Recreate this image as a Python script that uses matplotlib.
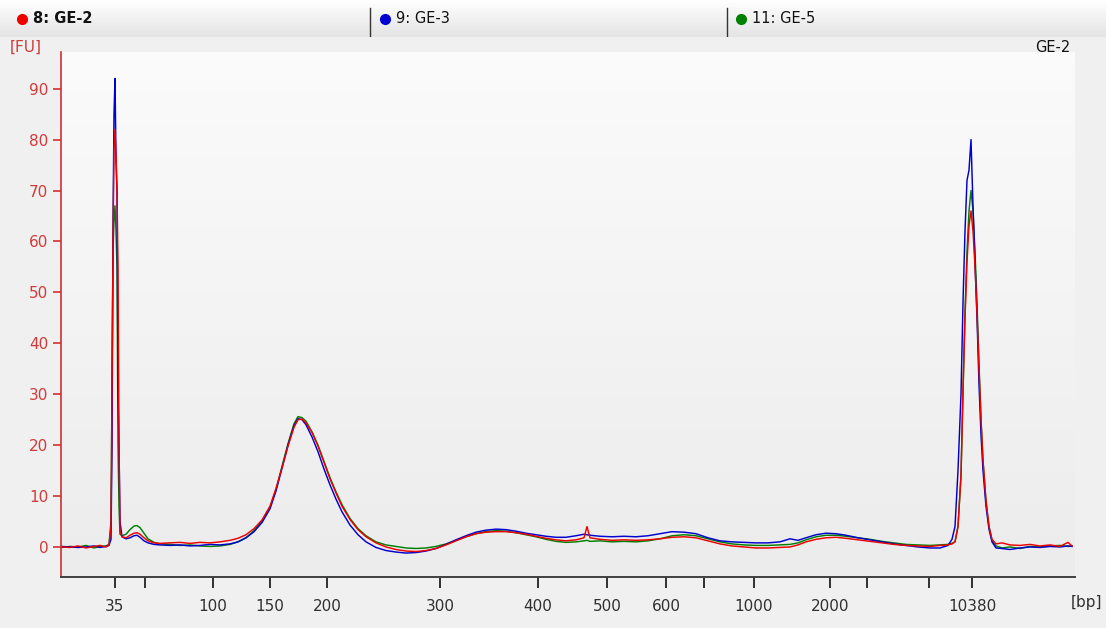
import numpy as np
import matplotlib
matplotlib.use("Agg")
import matplotlib.pyplot as plt

# migration time [s] shared by all three samples
time_s = [
    20.1, 20.9, 21.7, 22.5, 23.3, 23.9, 24.5, 24.8, 25.0, 25.1, 25.2, 25.3, 25.4, 25.5, 25.6,
    25.7, 25.8, 25.9, 26.1, 26.5, 26.9, 27.3, 27.6, 27.9, 28.3, 28.7, 29.3, 29.9, 30.9, 31.9,
    32.9, 33.9, 34.9, 35.9, 36.9, 37.7, 38.5, 39.3, 40.1, 40.9, 41.5, 42.1, 42.7, 43.3, 43.7,
    44.1, 44.5, 45.1, 45.7, 46.3, 46.9, 47.5, 48.1, 48.9, 49.7, 50.5, 51.5, 52.5, 53.5, 54.5,
    55.5, 56.5, 57.5, 58.5, 59.5, 60.5, 61.5, 62.5, 63.5, 64.5, 65.5, 66.5, 67.5, 68.5, 69.5,
    70.5, 71.5, 72.3, 72.6, 72.9, 73.9, 75.1, 76.3, 77.5, 78.7, 79.9, 81.1, 82.3, 83.5, 84.7,
    85.9, 87.1, 88.3, 89.5, 90.7, 91.9, 92.9, 93.7, 94.5, 95.5, 96.5, 97.5, 98.5, 99.7, 100.9,
    102.1, 103.3, 104.5, 105.7, 106.9, 107.9, 108.7, 109.1, 109.4, 109.7, 110.0, 110.2, 110.4, 110.6, 110.8,
    111.0, 111.2, 111.4, 111.6, 111.8, 112.0, 112.2, 112.5, 112.8, 113.1, 113.5, 114.1, 114.9, 115.9, 116.9,
    117.9, 118.9, 119.9, 120.7, 121.1,
]

ge2 = [
    0.0, -0.1, 0.2, -0.2, 0.1, 0.3, 0.0, 0.4, 4.0, 30, 60, 78, 82, 77, 70,
    55, 20, 3.0, 2.0, 1.8, 2.3, 2.7, 2.8, 2.5, 1.8, 1.2, 0.8, 0.7, 0.8, 0.9,
    0.7, 0.9, 0.8, 1.0, 1.3, 1.7, 2.4, 3.6, 5.3, 8.0, 11.5, 15.5, 19.8, 23.5, 25.0,
    25.1, 24.4, 22.5, 19.8, 16.6, 13.4, 10.6, 8.0, 5.4, 3.4, 2.0, 0.8, 0.0, -0.5, -0.8,
    -0.9, -0.7, -0.3, 0.4, 1.2, 2.0, 2.6, 2.9, 3.0, 3.0, 2.8, 2.5, 2.1, 1.7, 1.4,
    1.2, 1.4, 1.8, 4.0, 1.8, 1.5, 1.3, 1.4, 1.3, 1.4, 1.6, 1.9, 2.0, 1.8, 1.2,
    0.6, 0.2, 0.0, -0.2, -0.2, -0.1, 0.0, 0.4, 1.0, 1.5, 1.8, 1.9, 1.7, 1.4, 1.1,
    0.8, 0.5, 0.3, 0.2, 0.1, 0.3, 0.4, 0.6, 1.0, 4.0, 14, 31, 45, 56, 63,
    66, 62, 55, 46, 35, 25, 17, 9, 4, 1.5, 0.6, 0.8, 0.4, 0.3, 0.5,
    0.2, 0.4, 0.1, 0.9, 0.2,
]

ge3 = [
    0.1, 0.0, -0.1, 0.0, 0.2, -0.1, 0.1, 0.3, 1.5, 20, 63, 85, 92, 76, 70,
    31, 20, 5, 2.0, 1.6, 1.8, 2.2, 2.3, 1.9, 1.2, 0.8, 0.5, 0.4, 0.3, 0.4,
    0.2, 0.3, 0.5, 0.4, 0.6, 1.0, 1.8, 3.0, 4.8, 7.5, 11.0, 15.5, 20.0, 23.8, 25.2,
    25.0, 24.0, 21.6, 18.7, 15.3, 12.2, 9.4, 6.9, 4.3, 2.4, 1.0, -0.1, -0.7, -1.0, -1.2,
    -1.1, -0.8, -0.3, 0.5, 1.4, 2.2, 2.9, 3.3, 3.5, 3.4, 3.1, 2.7, 2.4, 2.1, 1.9,
    1.9, 2.2, 2.5, 2.4, 2.3, 2.1, 2.0, 2.1, 2.0, 2.2, 2.6, 3.0, 2.9, 2.6, 1.8,
    1.2, 1.0, 0.9, 0.8, 0.8, 1.0, 1.6, 1.3, 1.8, 2.4, 2.7, 2.6, 2.3, 1.8, 1.4,
    1.0, 0.6, 0.3, 0.0, -0.2, -0.2, 0.3, 1.5, 4.0, 15, 30, 48, 62, 72, 74,
    80, 67, 56, 45, 32, 22, 15, 8, 3.5, 1.0, -0.2, -0.3, -0.5, -0.2, 0.0,
    -0.1, 0.1, 0.0, 0.2, 0.1,
]

ge5 = [
    -0.1, 0.1, 0.0, 0.3, -0.2, 0.1, 0.2, 0.5, 5.0, 33, 58, 64, 67, 62, 55,
    20, 8, 2.5, 2.2, 2.5, 3.4, 4.1, 4.2, 3.8, 2.7, 1.6, 0.9, 0.6, 0.5, 0.3,
    0.4, 0.2, 0.1, 0.2, 0.5, 1.0, 1.8, 3.2, 5.0, 7.8, 11.3, 15.8, 20.3, 24.2, 25.6,
    25.4, 24.7, 22.6, 20.0, 16.8, 13.6, 10.8, 8.3, 5.6, 3.6, 2.2, 1.0, 0.4, 0.1, -0.2,
    -0.3, -0.2, 0.1, 0.6, 1.3, 2.0, 2.6, 3.0, 3.2, 3.1, 2.8, 2.4, 2.0, 1.5, 1.1,
    0.9, 1.0, 1.2, 1.3, 1.1, 1.2, 1.0, 1.1, 1.0, 1.2, 1.6, 2.2, 2.4, 2.2, 1.6,
    1.0, 0.6, 0.4, 0.3, 0.3, 0.4, 0.5, 0.8, 1.4, 2.0, 2.3, 2.3, 2.1, 1.8, 1.5,
    1.1, 0.8, 0.5, 0.4, 0.3, 0.4, 0.5, 0.7, 1.0, 4.0, 14, 30, 46, 58, 66,
    70, 66, 58, 48, 36, 25, 17, 9, 4, 1.3, 0.2, -0.2, 0.0, -0.3, 0.1,
    0.0, 0.2, 0.3, 0.1, 0.2,
]

# ladder positions on the time axis and their size labels
ladder_time = [25.4, 28.4, 35.2, 40.9, 46.6, 57.9, 67.7, 74.6, 80.5, 84.3,
               89.3, 96.9, 100.6, 106.8, 111.1]
ladder_bp = ["35", "", "100", "150", "200", "300", "400", "500", "600", "",
             "1000", "2000", "", "", "10380"]
y_ticks = [0, 10, 20, 30, 40, 50, 60, 70, 80, 90]

samples = ["8: GE-2", "9: GE-3", "11: GE-5"]
colors = ["#ee0000", "#0000d0", "#008000"]

plt.rcParams["font.family"] = ["DejaVu Sans"]
W, H = 1106, 628
fig = plt.figure(figsize=(W / 100, H / 100), dpi=100, facecolor="#f0f0f0")

# header strip with sample legend
hdr = fig.add_axes([0, 1 - 37 / H, 1, 37 / H])
grad = np.linspace(1.0, 0.0, 50).reshape(-1, 1)
hdr.imshow(grad, aspect="auto", extent=[0, 1, 0, 1], cmap=matplotlib.colors.LinearSegmentedColormap.from_list(
    "hdr", ["#e4e4e4", "#ffffff"]), vmin=0, vmax=1)
hdr.set_xlim(0, 1)
hdr.set_ylim(0, 1)
hdr.axis("off")
item_x = [22 / W, 385 / W, 741 / W]
for i, (name, c) in enumerate(zip(samples, colors)):
    hdr.plot(item_x[i], 0.5, "o", color=c, markersize=7)
    hdr.text(item_x[i] + 11 / W, 0.5, name, va="center", ha="left", fontsize=10.5,
             fontweight="bold" if i == 0 else "normal", color="#111111")
for sx in [370 / W, 727 / W]:
    hdr.plot([sx, sx], [0.0, 0.78], color="#333333", lw=1)

# main electropherogram
ax = fig.add_axes([61 / W, (H - 577) / H, (1075 - 61) / W, (577 - 52) / H])
ax.set_facecolor("#f6f6f6")
ax.imshow(np.linspace(1, 0, 50).reshape(-1, 1), aspect="auto", extent=[0, 1, 0, 1],
          transform=ax.transAxes, zorder=0,
          cmap=matplotlib.colors.LinearSegmentedColormap.from_list("bg", ["#ececec", "#fbfbfb"]))

for ys, c in zip([ge5, ge3, ge2], [colors[2], colors[1], colors[0]]):
    ax.plot(time_s, ys, color=c, lw=1.05, zorder=2)

ax.set_xlim(20.0, 121.4)
ax.set_ylim(-5.9, 97.2)

ax.set_xticks(ladder_time)
ax.set_xticklabels(ladder_bp)
ax.set_yticks(y_ticks)

for s in ["top", "right"]:
    ax.spines[s].set_visible(False)
ax.spines["left"].set_color("#d03030")
ax.spines["left"].set_linewidth(1.2)
ax.spines["bottom"].set_color("#404040")
ax.spines["bottom"].set_linewidth(1.4)

ax.tick_params(axis="y", colors="#d03030", labelcolor="#d03a3a", labelsize=11, length=6, width=1.2, pad=3)
ax.tick_params(axis="x", colors="#303030", labelcolor="#303030", labelsize=11, length=8, width=1.4, pad=8)

fig.text(10 / W, 1 - 47 / H, "[FU]", color="#d03a3a", fontsize=11, va="center", ha="left")
fig.text(1070 / W, 1 - 47 / H, "GE-2", color="#111111", fontsize=10.5, va="center", ha="right")
fig.text(1087 / W, 1 - 603 / H, "[bp]", color="#303030", fontsize=11, va="center", ha="center")

fig.savefig("out.png", dpi=100, facecolor=fig.get_facecolor())
